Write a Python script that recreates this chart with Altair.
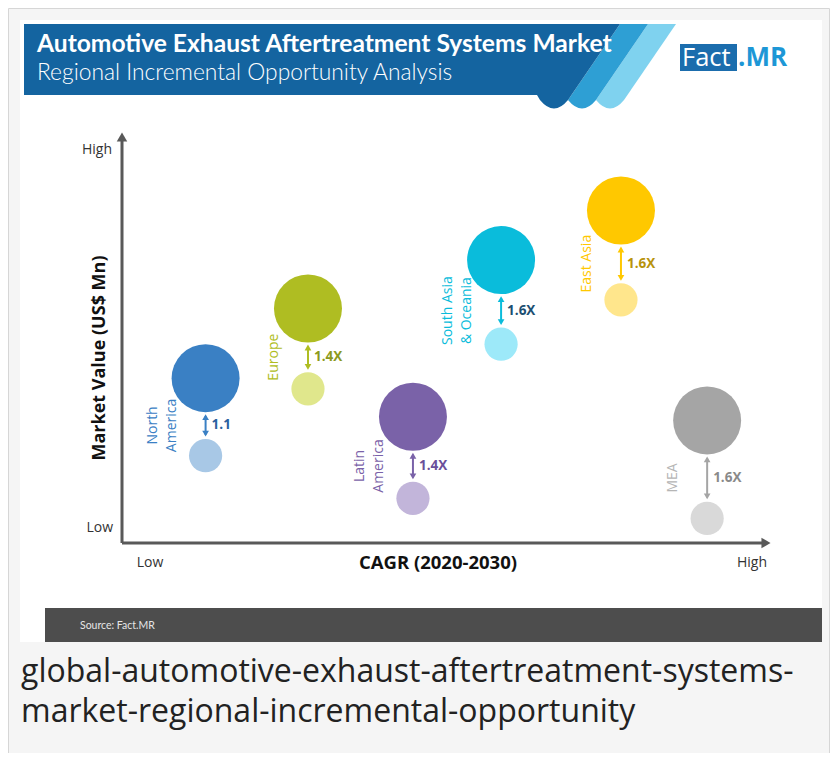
import altair as alt
import pandas as pd

# ---------------- data ----------------
REGIONS = ["North America", "Europe", "Latin America", "South Asia & Oceania", "East Asia", "MEA"]
LABEL_LINE1 = ["North", "", "Latin", "South Asia", "", ""]
LABEL_LINE2 = ["America", "Europe", "America", "& Oceania", "East Asia", "MEA"]
CAGR_POS = [12.9, 28.7, 44.9, 58.5, 77.0, 90.3]      # relative CAGR 2020-2030 (Low=0 .. High=100)
VALUE_2030 = [40.2, 57.2, 30.8, 69.0, 81.1, 29.9]    # relative market value, large bubble
VALUE_2020 = [21.3, 37.6, 10.9, 48.5, 59.3, 6.0]     # relative market value, small bubble
MULTIPLIER = ["1.1", "1.4X", "1.4X", "1.6X", "1.6X", "1.6X"]

# ---------------- styles ----------------
COLOR_MAIN = ["#3a80c4", "#afbd22", "#7a62a8", "#0abcdb", "#ffc800", "#a5a5a5"]
COLOR_LIGHT = ["#a8c8e6", "#e0e78c", "#c2b5da", "#9de9f9", "#ffe68c", "#d9d9d9"]
COLOR_MULT = ["#2a5f9e", "#8c9a1c", "#6a4f9a", "#1d4f72", "#b8930c", "#8a8a8a"]
COLOR_LABEL = ["#3a80c4", "#afbd22", "#7a62a8", "#0abcdb", "#ffc800", "#b5b5b5"]
FONT = "Open Sans"
HEAD_FONT = "Lato"
W, H = 822, 745
OX, OY = 8, 8  # page margin: screenshot px -> chart px
BIG_R, SMALL_R = 34, 16.6


def px(x):
    return x - OX


def py(y):
    return y - OY


df = pd.DataFrame({
    "region": REGIONS,
    "line1": LABEL_LINE1,
    "line2": LABEL_LINE2,
    "cagr": CAGR_POS,
    "v2030": VALUE_2030,
    "v2020": VALUE_2020,
    "mult": MULTIPLIER,
    "c_main": COLOR_MAIN,
    "c_light": COLOR_LIGHT,
    "c_mult": COLOR_MULT,
    "c_label": COLOR_LABEL,
})

XS = alt.Scale(domain=[0, 100], range=[px(122), px(770)])
YS = alt.Scale(domain=[0, 100], range=[py(543), py(133)])
X = alt.X("cagr:Q", scale=XS, axis=None)
Y_BIG = alt.Y("v2030:Q", scale=YS, axis=None)
Y_SMALL = alt.Y("v2020:Q", scale=YS, axis=None)
Y_MID = alt.Y("mid:Q", scale=YS, axis=None)


def col(c):
    return alt.Color(c + ":N", scale=None, legend=None)


def one():
    return alt.Data(values=[{"k": 1}])


def rect(x1, y1, x2, y2, fill, stroke=None):
    kw = dict(fill=fill)
    if stroke:
        kw.update(stroke=stroke, strokeWidth=1)
    return alt.Chart(one()).mark_rect(**kw).encode(
        x=alt.value(px(x1)), x2=alt.value(px(x2)), y=alt.value(py(y1)), y2=alt.value(py(y2)))


def text(t, x, y, size, color, weight="normal", align="left", baseline="middle", font=FONT, angle=None):
    kw = dict(text=t, fontSize=size, color=color, fontWeight=weight, align=align, baseline=baseline, font=font)
    if angle is not None:
        kw["angle"] = angle
    return alt.Chart(one()).mark_text(**kw).encode(x=alt.value(px(x)), y=alt.value(py(y)))


def shape(cmds, color, cx, cy, r):
    parts = []
    for c, pts in cmds:
        coords = []
        for i in range(0, len(pts), 2):
            coords.append(f"{(pts[i] - cx) / r:.4f},{(pts[i + 1] - cy) / r:.4f}")
        parts.append(c + " ".join(coords))
    path = " ".join(parts) + " Z"
    return alt.Chart(one()).mark_point(shape=path, size=(2 * r) ** 2, filled=True, color=color,
                                       opacity=1, strokeOpacity=0).encode(
        x=alt.value(px(cx)), y=alt.value(py(cy)))


layers = []
# frame and white card
layers.append(rect(8.5, 8.5, 829.5, 800, "#f5f5f5", stroke="#d6d6d6"))
layers.append(rect(20, 20, 822, 642, "#ffffff"))

# header banner
R = 340
CX, CY = 350, 66
layers.append(shape([("M", [648, 24]), ("L", [676, 24]), ("L", [624, 100]), ("Q", [610, 117, 596, 100])],
                    "#7fd2ef", CX, CY, R))
layers.append(shape([("M", [620, 24]), ("L", [648, 24]), ("L", [596, 100]), ("Q", [582, 117, 568, 100])],
                    "#2e9fd4", CX, CY, R))
layers.append(shape([("M", [24, 24]), ("L", [620, 24]), ("L", [568, 100]), ("Q", [554, 117, 540, 100]),
                     ("L", [537, 95]), ("L", [24, 95])], "#1464a0", CX, CY, R))
layers.append(text("Automotive Exhaust Aftertreatment Systems Market", 37, 45, 24.6, "#ffffff",
                   weight="bold", font=HEAD_FONT))
layers.append(text("Regional Incremental Opportunity Analysis", 37, 73, 22.8, "#ffffff",
                   weight=300, font=HEAD_FONT))

# logo
layers.append(rect(680, 44, 737, 71, "#1b6dad"))
layers.append(text("Fact", 682, 58, 25.5, "#ffffff", font=FONT))
layers.append(text(".MR", 738, 58, 26, "#1d97d6", weight="bold", font=FONT))

# source bar
layers.append(rect(45, 608, 822, 642, "#4d4d4d"))
layers.append(text("Source: Fact.MR", 80, 626, 10.5, "#e6e6e6", font=HEAD_FONT))

# caption
layers.append(text("global-automotive-exhaust-aftertreatment-systems-", 21, 672, 32, "#222222"))
layers.append(text("market-regional-incremental-opportunity", 21, 712, 32, "#222222"))

# axes (arrows)
AX = "#595959"
layers.append(alt.Chart(one()).mark_rule(color=AX, strokeWidth=3).encode(
    x=alt.value(px(122)), y=alt.value(py(543)), y2=alt.value(py(140))))
layers.append(alt.Chart(one()).mark_rule(color=AX, strokeWidth=3).encode(
    x=alt.value(px(122)), x2=alt.value(px(763)), y=alt.value(py(543))))
layers.append(alt.Chart(one()).mark_point(shape="triangle-up", filled=True, color=AX, opacity=1,
                                          size=110).encode(x=alt.value(px(122)), y=alt.value(py(137))))
layers.append(alt.Chart(one()).mark_point(shape="triangle-right", filled=True, color=AX, opacity=1,
                                          size=110).encode(x=alt.value(px(766)), y=alt.value(py(543))))

layers.append(text("High", 112, 150, 14, "#333333", align="right"))
layers.append(text("Low", 113, 528, 14, "#333333", align="right"))
layers.append(text("Low", 150, 563, 14, "#333333", align="center"))
layers.append(text("High", 752, 563, 14, "#333333", align="center"))
layers.append(text("CAGR (2020-2030)", 438, 563, 18.5, "#111111", weight="bold", align="center"))
layers.append(text("Market Value (US$ Mn)", 100, 358, 18, "#111111", weight="bold", align="center", angle=270))

# bubbles
base = alt.Chart(df)
big = base.mark_circle(size=(2 * BIG_R) ** 2, opacity=1).encode(x=X, y=Y_BIG, color=col("c_main"))
small = base.mark_circle(size=(2 * SMALL_R) ** 2, opacity=1).encode(x=X, y=Y_SMALL, color=col("c_light"))
arrow = base.mark_rule(strokeWidth=2, yOffset=38, y2Offset=-21).encode(
    x=X, y=Y_BIG, y2="v2020:Q", color=col("c_main"))
head_up = base.mark_point(shape="triangle-up", filled=True, opacity=1, size=45, yOffset=39).encode(
    x=X, y=Y_BIG, color=col("c_main"))
head_dn = base.mark_point(shape="triangle-down", filled=True, opacity=1, size=45, yOffset=-22).encode(
    x=X, y=Y_SMALL, color=col("c_main"))
mid = base.transform_calculate(mid="(datum.v2030 + datum.v2020) / 2")
mult = mid.mark_text(align="left", baseline="middle", dx=6, yOffset=8.5, fontSize=13.5,
                     fontWeight="bold", font=FONT).encode(
    x=X, y=Y_MID, text="mult:N", color=col("c_mult"))
lab2 = mid.mark_text(align="center", baseline="middle", angle=270, xOffset=-34, yOffset=8.5,
                     fontSize=14, font=FONT).encode(
    x=X, y=Y_MID, text="line2:N", color=col("c_label"))
lab1 = mid.mark_text(align="center", baseline="middle", angle=270, xOffset=-53, yOffset=8.5,
                     fontSize=14, font=FONT).encode(
    x=X, y=Y_MID, text="line1:N", color=col("c_label"))

layers += [arrow, head_up, head_dn, big, small, mult, lab2, lab1]

chart = alt.layer(*layers).properties(
    width=W, height=H, padding=0,
    autosize=alt.AutoSizeParams(type="none"),
).configure_view(stroke=None)

chart.save("out.html", embed_options={"renderer": "svg", "actions": False})
